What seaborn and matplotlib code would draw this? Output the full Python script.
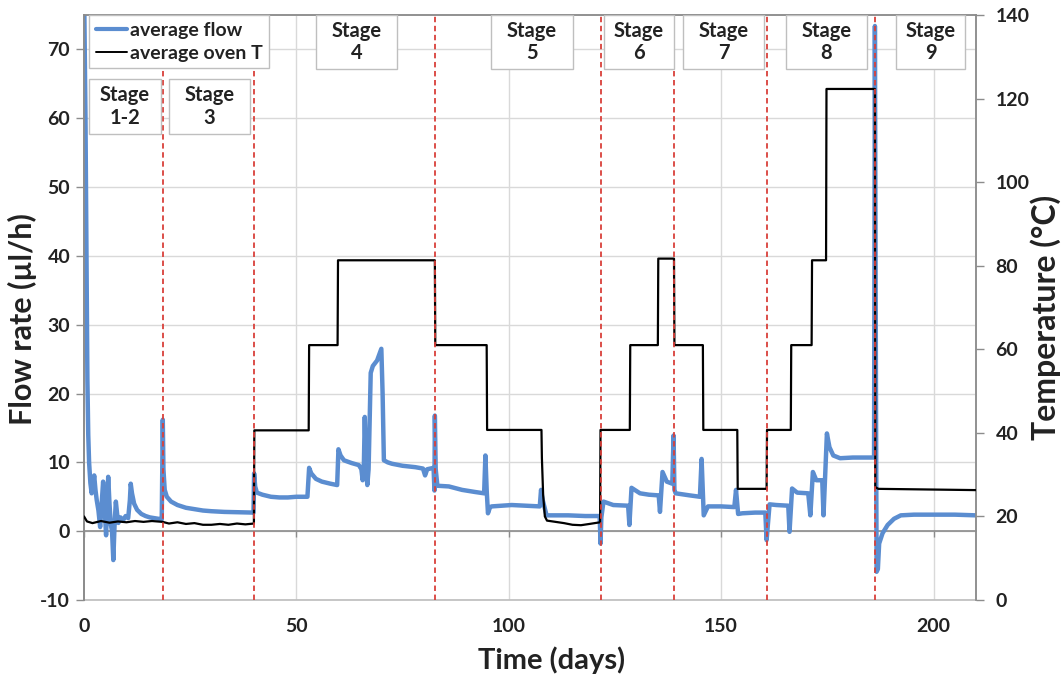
import matplotlib
matplotlib.use("Agg")
import matplotlib.pyplot as plt
from matplotlib.patches import Rectangle
from matplotlib.lines import Line2D
import seaborn as sns
import pandas as pd

# ---------------- data ----------------
flow_day = [0.0, 0.35, 0.6, 0.8, 1.0, 1.2, 1.5, 1.8, 2.1, 2.4, 2.7, 3.0, 3.4, 3.8, 4.1, 4.5, 4.9, 5.2,
            5.45, 5.7, 6.0, 6.3, 6.6, 6.9, 7.2, 7.5, 7.8, 8.1, 8.6, 9.2, 9.8, 10.4, 10.8, 11.0, 11.3,
            11.8, 12.5, 13.5, 14.5, 15.5, 16.5, 17.5, 18.3,
            18.45, 18.55, 18.7, 19.0, 19.5, 20.5, 22, 24, 26, 28, 30, 33, 36, 39.6,
            39.9, 40.05, 40.3, 40.7, 42, 44, 46, 48, 50, 52.6, 53.0, 53.5, 54.6, 56, 58, 59.6, 59.9,
            60.4, 61.2, 63, 64.7, 65.3, 65.6, 65.9, 66.1, 66.35, 66.7, 67.0, 67.5, 68.0, 69, 70.0,
            70.3, 70.6, 71.5, 72.5, 75, 78, 79.8, 80.3, 80.8, 82.3,
            82.5, 82.6, 82.8, 83.2, 85.9, 89, 92, 94.2, 94.5, 94.8, 95.1, 95.6, 96, 100.7, 104,
            107.3, 107.6, 108.0, 108.9, 114, 118, 121.4,
            121.6, 121.8, 122.3, 124.6, 128.1, 128.4, 128.9, 130.9, 133, 135.3, 135.6, 136.2, 137.2,
            138.5, 138.8, 139.0, 139.3, 142.6, 145, 145.4, 145.9, 146.9, 150, 153.1, 153.5, 154,
            155, 158, 160.4,
            160.7, 161.0, 161.4, 163, 165.8, 166.1, 166.7, 167.9, 170.5, 171.0, 171.6, 172.4, 173.8,
            174.1, 174.9, 175.5, 176.4, 178, 181, 183.5, 186.0,
            186.2, 186.45, 186.6, 186.9, 187.2, 188, 189.2, 190.7, 192.3, 195.4, 200, 205, 210]
flow_val = [80, 60, 38, 22, 14, 10, 7.0, 5.5, 6.5, 8.1, 6.0, 4.5, 3.0, 0.6, 3.5, 7.2, 3.0, -0.6,
            4.0, 7.9, 4.0, 1.0, 0.0, -4.2, 1.0, 4.3, 2.5, 1.2, 2.0, 1.6, 2.2, 1.9, 4.5, 6.9, 5.5,
            4.0, 3.1, 2.5, 2.2, 2.0, 1.9, 1.8, 1.7,
            10, 16.2, 9, 6.0, 5.0, 4.3, 3.8, 3.4, 3.2, 3.0, 2.9, 2.8, 2.75, 2.7,
            2.7, 8.4, 6.5, 5.6, 5.3, 5.0, 4.9, 4.9, 5.0, 5.0, 9.2, 8.4, 7.6, 7.2, 6.9, 6.7, 11.9,
            11.0, 10.3, 9.9, 9.6, 9.0, 7.4, 10, 16.6, 10, 6.7, 9, 23.0, 24.0, 24.8, 26.5,
            20, 10.3, 10.0, 9.8, 9.5, 9.3, 9.1, 8.1, 9.0, 9.2,
            5.9, 16.8, 9, 6.6, 6.5, 6.0, 5.7, 5.5, 11.0, 6.0, 2.6, 3.5, 3.6, 3.8, 3.7,
            3.6, 6.0, 4.5, 2.3, 2.3, 2.2, 2.2,
            -1.8, 2.0, 4.3, 3.8, 3.7, 0.9, 6.3, 5.5, 5.3, 5.2, 2.8, 8.6, 7.2,
            6.9, 13.9, 6.0, 5.5, 5.2, 5.0, 10.5, 2.3, 3.6, 3.6, 3.5, 6.0, 2.5,
            2.6, 2.7, 2.7,
            -1.3, 1.0, 3.9, 3.8, 3.7, -0.1, 6.2, 5.6, 5.5, 2.3, 8.6, 7.4, 7.4,
            2.3, 14.2, 12.2, 11.0, 10.6, 10.7, 10.7, 10.7,
            73.4, 20, -5.9, -5.5, -1.8, -0.3, 0.9, 1.8, 2.3, 2.4, 2.4, 2.4, 2.3]

temp_day = [0, 0.7, 2, 4, 6, 8, 10, 12, 14, 16, 18.5, 20, 22, 24, 26, 28, 30, 32, 34, 36, 38, 40.0,
            40.1, 52.9, 53.0, 59.7, 59.8, 82.6, 82.7, 94.8, 94.9, 107.7, 107.8, 108.1, 108.5, 109,
            111, 113, 115, 117, 119, 121.5,
            121.6, 128.5, 128.6, 135.1, 135.2, 138.9, 139.0, 145.7, 145.8, 153.8, 153.9, 160.7,
            160.8, 166.4, 166.5, 171.3, 171.4, 174.7, 174.8, 186.2, 186.3, 187, 210]
temp_val = [20.0, 18.8, 18.4, 18.9, 18.5, 18.8, 18.6, 18.9, 18.7, 18.9, 18.7, 18.3, 18.6, 18.2, 18.4,
            18.0, 18.0, 18.2, 18.0, 18.3, 18.1, 18.3,
            40.6, 40.6, 61.0, 61.0, 81.3, 81.3, 61.0, 61.0, 40.7, 40.7, 34, 25, 20, 19,
            18.7, 18.4, 18.0, 17.9, 18.2, 18.6,
            40.7, 40.7, 61.0, 61.0, 81.7, 81.7, 61.0, 61.0, 40.7, 40.7, 26.6, 26.6,
            40.7, 40.7, 61.0, 61.0, 81.3, 81.3, 122.3, 122.3, 27.0, 26.6, 26.3]

stage_bounds = [18.5, 40.0, 82.6, 121.6, 139.0, 160.8, 186.25]
stage_labels = ["Stage\n1-2", "Stage\n3", "Stage\n4", "Stage\n5", "Stage\n6",
                "Stage\n7", "Stage\n8", "Stage\n9"]

x_ticks = [0, 50, 100, 150, 200]
left_ticks = [-10, 0, 10, 20, 30, 40, 50, 60, 70]
right_ticks = [0, 20, 40, 60, 80, 100, 120, 140]

flow_df = pd.DataFrame({"day": flow_day, "flow": flow_val})
temp_df = pd.DataFrame({"day": temp_day, "temp": temp_val})

# ---------------- layout (pixels) ----------------
W, H = 1064, 678
PX0, PX1, PY0, PY1 = 84, 976, 15, 600  # plot area: left, right, top, bottom

def fx(px):
    return (px - PX0) / (PX1 - PX0)

def fy(py):
    return (PY1 - py) / (PY1 - PY0)

# stage label boxes (x0, x1, ytop, ybot) in pixels
box_px = [(89, 161, 79, 134), (169, 250, 79, 134), (316, 397, 15, 69), (491, 573, 15, 69),
          (604, 674, 15, 69), (683, 764, 15, 69), (786, 867, 15, 69), (896, 965, 15, 69)]

sns.set_theme(style="white")
plt.rcParams["font.family"] = ["Lato", "DejaVu Sans"]
plt.rcParams["font.weight"] = "bold"
plt.rcParams["axes.unicode_minus"] = False

TXT = "#222222"
fig = plt.figure(figsize=(W / 100, H / 100), dpi=100)
ax = fig.add_axes([PX0 / W, 1 - PY1 / H, (PX1 - PX0) / W, (PY1 - PY0) / H])
ax2 = ax.twinx()

BLUE = "#5B8DD0"
GRID = "#d9d9d9"
AXC = "#8c8c8c"

sns.lineplot(data=flow_df, x="day", y="flow", ax=ax, sort=False, estimator=None,
             color=BLUE, linewidth=3.2, zorder=3)
sns.lineplot(data=temp_df, x="day", y="temp", ax=ax2, sort=False, estimator=None,
             color="black", linewidth=1.6, zorder=3)

ax.set_xlim(0, 210)
ax.set_ylim(-10, 75)
ax2.set_ylim(0, 140)

# grid
ax.set_yticks(left_ticks)
ax.set_xticks(x_ticks)
for v in left_ticks:
    ax.axhline(v, color=GRID, lw=1, zorder=0)
for v in x_ticks[1:]:
    ax.axvline(v, color=GRID, lw=1, zorder=0)
ax.grid(False)
ax2.grid(False)

# zero line with tick marks
ax.spines["bottom"].set_position(("data", 0))
ax.spines["bottom"].set_color(AXC)
ax.spines["bottom"].set_linewidth(1.2)
ax.tick_params(axis="x", bottom=True, length=4, width=1, color=AXC, direction="out",
               labelbottom=False)
sec = ax.secondary_xaxis(0.0)
sec.set_xticks(x_ticks)
sec.set_xticklabels([str(v) for v in x_ticks], fontweight="bold")
sec.tick_params(axis="x", length=0, labelsize=14, pad=13, labelcolor=TXT)
sec.spines["bottom"].set_color("#bfbfbf")

for s in ["left", "right", "top"]:
    ax.spines[s].set_color("#bfbfbf")
    ax2.spines[s].set_color(AXC)
ax.spines["left"].set_color(AXC)
ax2.spines["bottom"].set_visible(False)
ax.set_yticklabels([str(v) for v in left_ticks], fontweight="bold")
ax.tick_params(axis="y", left=True, length=6, width=1, color=AXC, labelsize=14,
               labelcolor=TXT, pad=4)
ax2.set_yticks(right_ticks)
ax2.set_yticklabels([str(v) for v in right_ticks], fontweight="bold")
ax2.tick_params(axis="y", right=True, length=6, width=1, color=AXC, labelsize=14,
                labelcolor=TXT, pad=8)

ax.set_xlabel("")
ax.set_ylabel("")
ax2.set_ylabel("")
sec.set_xlabel("")
fig.text(552 / W, 1 - 660 / H, "Time (days)", ha="center", va="center", fontsize=21,
         fontweight="bold", color=TXT)
fig.text(22 / W, 1 - 319 / H, "Flow rate (µl/h)", ha="center", va="center", fontsize=22,
         fontweight="bold", color=TXT, rotation=90)
fig.text(1046 / W, 1 - 317 / H, "Temperature (°C)", ha="center", va="center", fontsize=23,
         fontweight="bold", color=TXT, rotation=90)

# stage boundaries
for b in stage_bounds:
    ax2.axvline(b, color="#d9403a", lw=1.3, ls=(0, (3, 2)), zorder=5)

# stage boxes
for lab, (x0, x1, yt, yb) in zip(stage_labels, box_px):
    r = Rectangle((fx(x0), fy(yb)), fx(x1) - fx(x0), fy(yt) - fy(yb), transform=ax2.transAxes,
                  facecolor="white", edgecolor="#bfbfbf", lw=1, zorder=6)
    ax2.add_patch(r)
    ax2.text((fx(x0) + fx(x1)) / 2, (fy(yt) + fy(yb)) / 2, lab, transform=ax2.transAxes,
             ha="center", va="center", fontsize=14.5, fontweight="bold", color=TXT,
             linespacing=1.15, zorder=7)

# legend
handles = [Line2D([], [], color=BLUE, lw=3), Line2D([], [], color="black", lw=1.4)]
leg = ax2.legend(handles, ["average flow", "average oven T"], loc="upper left",
                 bbox_to_anchor=(fx(89), fy(15)), frameon=True, fancybox=False,
                 edgecolor="#bfbfbf", framealpha=1, handlelength=1.6,
                 handletextpad=0.15, labelspacing=0.3, borderpad=0.35, borderaxespad=0,
                 prop={"weight": "bold", "size": 14})
leg.get_frame().set_linewidth(1)
leg.set_zorder(8)
for t in leg.get_texts():
    t.set_color(TXT)

fig.savefig("out.png", dpi=100)
